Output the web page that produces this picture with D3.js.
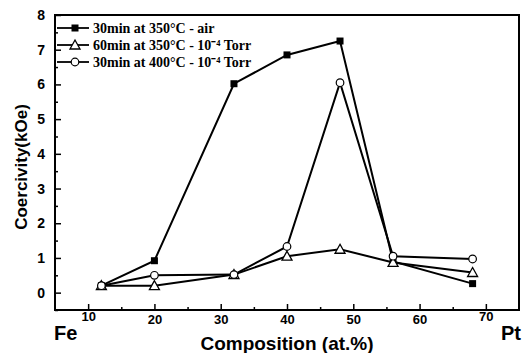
<!DOCTYPE html>
<html>
<head>
<meta charset="utf-8">
<script src="https://cdn.jsdelivr.net/npm/d3@7"></script>
<style>
  body { margin: 0; background: #fff; }
  svg { display: block; }
</style>
</head>
<body>
<svg id="chart"></svg>
<script>
const composition = [12, 20, 32, 40, 48, 56, 68]
const airValues = [0.2, 0.92, 6.02, 6.85, 7.25, 0.9, 0.26]
const vac350Values = [0.2, 0.2, 0.52, 1.05, 1.25, 0.87, 0.58]
const vac400Values = [0.2, 0.5, 0.52, 1.33, 6.05, 1.05, 0.97]
const seriesNames = ["30min at 350\u00b0C - air", "60min at 350\u00b0C - 10\u207b\u2074 Torr", "30min at 400\u00b0C - 10\u207b\u2074 Torr"]
const xTicks = [10, 20, 30, 40, 50, 60, 70]
const yTicks = [0, 1, 2, 3, 4, 5, 6, 7, 8]

const width = 526, height = 353
const margin = { top: 15, right: 7, bottom: 43, left: 55 }

const svg = d3.select("#chart").attr("width", width).attr("height", height)

const x = d3.scaleLinear().domain([5, 75]).range([margin.left, width - margin.right])
const y = d3.scaleLinear().domain([-0.5, 8]).range([height - margin.bottom, margin.top])

const sans = "Liberation Sans, Arial, sans-serif"
const serif = "Liberation Serif, Times New Roman, serif"

// axes, ticks pointing inward
const xAxis = g => g.attr("transform", `translate(0,${height - margin.bottom})`)
    .call(d3.axisBottom(x).tickValues(xTicks).tickSize(-6).tickPadding(5).tickFormat(d => d))
    .call(g => g.selectAll("text").attr("font-size", "13px").attr("font-weight", "bold").attr("font-family", sans)
        .attr("dy", d => (d === 10 || d === 70) ? "0.45em" : "0.71em"))
const xMinor = g => g.attr("transform", `translate(0,${height - margin.bottom})`)
    .call(d3.axisBottom(x).tickValues(d3.range(15, 75, 10)).tickSize(-3).tickFormat(""))
const yAxis = g => g.attr("transform", `translate(${margin.left},0)`)
    .call(d3.axisLeft(y).tickValues(yTicks).tickSize(-6).tickPadding(10))
    .call(g => g.selectAll("text").attr("font-size", "14px").attr("font-weight", "bold").attr("font-family", sans))
const yMinor = g => g.attr("transform", `translate(${margin.left},0)`)
    .call(d3.axisLeft(y).tickValues(d3.range(-0.5, 8, 1)).tickSize(-3).tickFormat(""))

svg.append("g").call(xMinor)
svg.append("g").call(yMinor)
svg.append("g").call(xAxis)
svg.append("g").call(yAxis)
svg.selectAll(".domain").remove()
svg.selectAll(".tick line").attr("stroke", "#000").attr("stroke-width", 1.5)

// frame
svg.append("rect")
    .attr("x", margin.left).attr("y", margin.top)
    .attr("width", width - margin.left - margin.right)
    .attr("height", height - margin.top - margin.bottom)
    .attr("fill", "none").attr("stroke", "#000").attr("stroke-width", 2)

const line = d3.line().x(d => x(d[0])).y(d => y(d[1]))
const series = [airValues, vac350Values, vac400Values].map(v => composition.map((c, i) => [c, v[i]]))

series.forEach(pts => {
    svg.append("path").datum(pts).attr("d", line)
        .attr("fill", "none").attr("stroke", "#000").attr("stroke-width", 2)
})

function marker(g, type, cx, cy) {
    if (type === 0) {
        g.append("rect").attr("x", cx - 3.5).attr("y", cy - 3.5).attr("width", 7).attr("height", 7).attr("fill", "#000")
    } else if (type === 1) {
        g.append("path").attr("d", `M${cx},${cy - 5}L${cx + 5},${cy + 4}L${cx - 5},${cy + 4}Z`)
            .attr("fill", "#fff").attr("stroke", "#000").attr("stroke-width", 1.3)
    } else {
        g.append("circle").attr("cx", cx).attr("cy", cy).attr("r", 3.8)
            .attr("fill", "#fff").attr("stroke", "#000").attr("stroke-width", 1.2)
    }
}

const markG = svg.append("g")
series.forEach((pts, k) => pts.forEach(p => marker(markG, k, x(p[0]), y(p[1]))))

// legend
const legend = svg.append("g")
seriesNames.forEach((name, k) => {
    const ly = 28 + k * 17
    legend.append("line").attr("x1", 57).attr("x2", 89).attr("y1", ly).attr("y2", ly)
        .attr("stroke", "#000").attr("stroke-width", 1.8)
    marker(legend, k, 75, ly)
    legend.append("text").attr("x", 93).attr("y", ly + 5)
        .attr("font-family", serif).attr("font-weight", "bold").attr("font-size", "14px")
        .text(name)
})

// axis titles
svg.append("text")
    .attr("transform", `translate(27,167) rotate(-90)`)
    .attr("text-anchor", "middle").attr("font-family", sans).attr("font-weight", "bold").attr("font-size", "17px")
    .text("Coercivity(kOe)")
svg.append("text")
    .attr("x", 287).attr("y", 350)
    .attr("text-anchor", "middle").attr("font-family", sans).attr("font-weight", "bold").attr("font-size", "19px")
    .text("Composition (at.%)")
svg.append("text")
    .attr("x", 54).attr("y", 340)
    .attr("font-family", sans).attr("font-weight", "bold").attr("font-size", "20px")
    .text("Fe")
svg.append("text")
    .attr("x", 501).attr("y", 340)
    .attr("font-family", sans).attr("font-weight", "bold").attr("font-size", "20px")
    .text("Pt")
</script>
</body>
</html>
